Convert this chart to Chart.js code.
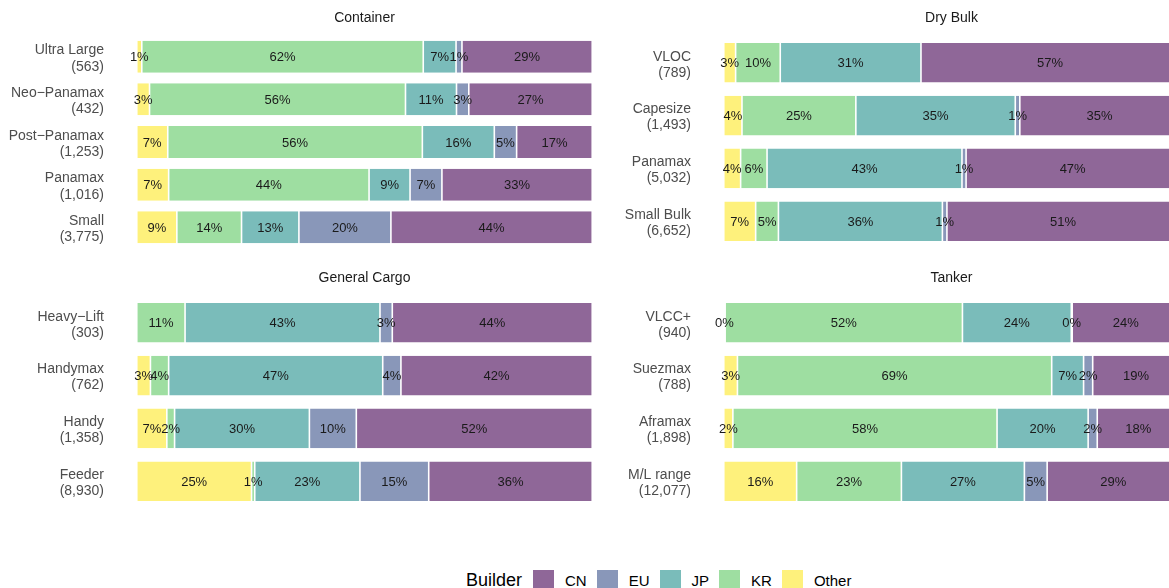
<!DOCTYPE html>
<html>
<head>
<meta charset="utf-8">
<script src="https://cdn.jsdelivr.net/npm/chart.js@4.4.1/dist/chart.umd.min.js"></script>
<style>
  html, body { margin: 0; padding: 0; background: #fff; }
  body { width: 1169px; height: 588px; overflow: hidden; position: relative; font-family: "Liberation Sans", Arial, sans-serif; }
  .panel { position: absolute; }
  #legend { position: absolute; left: 466px; top: 570px; display: flex; align-items: center; height: 21px; color: #000; }
  #legend .title { font-size: 18px; margin-right: 11px; }
  #legend .key { width: 21px; height: 21px; }
  #legend .lab { font-size: 15px; margin-left: 11px; margin-right: 10px; }
</style>
</head>
<body>
<div class="panel" style="left:0;top:0"><canvas id="container" width="615" height="250"></canvas></div>
<div class="panel" style="left:590px;top:0"><canvas id="drybulk" width="612" height="250"></canvas></div>
<div class="panel" style="left:0;top:260px"><canvas id="cargo" width="615" height="250"></canvas></div>
<div class="panel" style="left:590px;top:260px"><canvas id="tanker" width="612" height="250"></canvas></div>
<div id="legend"></div>

<script>
// builders in stacking order (left to right in each bar)
const builders = ['Other', 'KR', 'JP', 'EU', 'CN'];
const colors = {
  CN: '#8f6798',
  EU: '#8997b9',
  JP: '#7abcba',
  KR: '#9edea1',
  Other: '#fef17c'
};
const legendOrder = ['CN', 'EU', 'JP', 'KR', 'Other'];

// share of each builder (%), one row per ship size: [Other, KR, JP, EU, CN]
const containerLabels = [['Ultra Large', '(563)'], ['Neo\u2212Panamax', '(432)'], ['Post\u2212Panamax', '(1,253)'], ['Panamax', '(1,016)'], ['Small', '(3,775)']];
const containerShares = [
  [1.1, 61.8, 7.2, 1.3, 28.6],
  [2.8, 56.2, 11.2, 2.7, 27.1],
  [6.8, 55.9, 15.8, 4.9, 16.6],
  [7, 44, 9, 7, 33],
  [8.8, 14.2, 12.6, 20.2, 44.2]
];

const dryBulkLabels = [['VLOC', '(789)'], ['Capesize', '(1,493)'], ['Panamax', '(5,032)'], ['Small Bulk', '(6,652)']];
const dryBulkShares = [
  [2.6, 9.8, 30.9, null, 56.7],
  [4, 25, 35, 1, 35],
  [3.7, 5.8, 42.8, 0.9, 46.8],
  [7, 5, 36, 1, 51]
];

const cargoLabels = [['Heavy\u2212Lift', '(303)'], ['Handymax', '(762)'], ['Handy', '(1,358)'], ['Feeder', '(8,930)']];
const cargoShares = [
  [null, 10.6, 42.8, 2.7, 43.9],
  [3, 4, 47, 4, 42],
  [6.6, 1.7, 29.6, 10.3, 51.8],
  [25.2, 0.7, 23.1, 15.1, 35.9]
];

const tankerLabels = [['VLCC+', '(940)'], ['Suezmax', '(788)'], ['Aframax', '(1,898)'], ['M/L range', '(12,077)']];
const tankerShares = [
  [0.3, 52.1, 23.9, 0.2, 23.5],
  [3, 69, 7, 2, 19],
  [2, 58, 20, 2, 18],
  [16, 23, 27, 5, 29]
];

const FONT = '"Liberation Sans", Arial, Helvetica, sans-serif';

// write the rounded share in the middle of every segment
const barLabels = {
  id: 'barLabels',
  afterDatasetsDraw(chart) {
    const ctx = chart.ctx;
    ctx.save();
    ctx.font = '13px ' + FONT;
    ctx.fillStyle = '#1a1a1a';
    ctx.textAlign = 'center';
    ctx.textBaseline = 'middle';
    chart.data.datasets.forEach((ds, i) => {
      const meta = chart.getDatasetMeta(i);
      meta.data.forEach((bar, j) => {
        const v = ds.data[j];
        if (v == null) return;
        const p = bar.getProps(['x', 'base', 'y'], true);
        ctx.fillText(Math.round(v) + '%', (p.x + p.base) / 2, p.y + 1);
      });
    });
    ctx.restore();
  }
};

function makePanel(id, title, labels, shares, axisWidth, padTop, padBottom, bottom) {
  const datasets = builders.map((b, k) => ({
    label: b,
    data: shares.map(row => row[k]),
    backgroundColor: colors[b],
    borderColor: '#ffffff',
    borderWidth: { left: 0.8, right: 0.8, top: 0, bottom: 0 },
    borderSkipped: false,
    barPercentage: 0.75,
    categoryPercentage: 1
  }));

  new Chart(document.getElementById(id), {
    type: 'bar',
    data: { labels: labels, datasets: datasets },
    options: {
      indexAxis: 'y',
      responsive: false,
      animation: false,
      layout: { padding: { top: 0, left: 0, right: 0, bottom: bottom } },
      scales: {
        x: { stacked: true, min: -5, max: 105, display: false },
        y: {
          stacked: true,
          grid: { display: false, drawTicks: false },
          border: { display: false },
          ticks: {
            color: '#4d4d4d',
            padding: 10,
            labelOffset: 2,
            font: { family: FONT, size: 14, lineHeight: 1.15 }
          },
          afterFit: (scale) => {
            scale.width = axisWidth;
            scale.paddingTop = 0;
            scale.paddingBottom = 0;
          }
        }
      },
      plugins: {
        legend: { display: false },
        tooltip: { enabled: false },
        title: {
          display: true,
          text: title,
          fullSize: false,
          color: '#1a1a1a',
          font: { family: FONT, size: 14, weight: 'normal', lineHeight: 1.2 },
          padding: { top: padTop, bottom: padBottom }
        }
      }
    },
    plugins: [barLabels]
  });
}

makePanel('container', 'Container', containerLabels, containerShares, 114, 10.2, 8.3, 1.3);
makePanel('drybulk', 'Dry Bulk', dryBulkLabels, dryBulkShares, 111, 10.2, 9.3, 2.3);
makePanel('cargo', 'General Cargo', cargoLabels, cargoShares, 114, 10.2, 9.3, 2.3);
makePanel('tanker', 'Tanker', tankerLabels, tankerShares, 111, 10.2, 9.3, 2.3);

// legend
const legend = document.getElementById('legend');
const lt = document.createElement('span');
lt.className = 'title';
lt.textContent = 'Builder';
legend.appendChild(lt);
legendOrder.forEach(b => {
  const key = document.createElement('span');
  key.className = 'key';
  key.style.background = colors[b];
  legend.appendChild(key);
  const lab = document.createElement('span');
  lab.className = 'lab';
  lab.textContent = b;
  legend.appendChild(lab);
});
</script>
</body>
</html>
